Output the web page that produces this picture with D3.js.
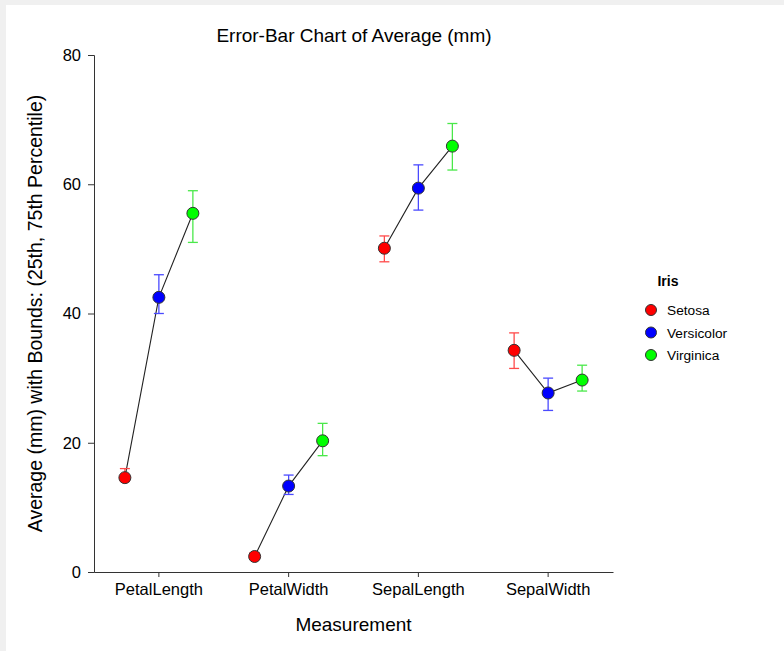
<!DOCTYPE html>
<html lang="en-us">
  <head>
    <meta charset="utf-8">
    <title>Error-Bar Chart</title>
    <script src="https://cdn.jsdelivr.net/npm/d3@7"></script>
    <style>
      body { margin: 0; background: #f0f0f0; }
      svg { display: block; font-family: "Liberation Sans", Arial, sans-serif; }
    </style>
  </head>
  <body>
    <div id="chart"></div>
    <script>

// measurements on the x axis
var measurements = ["PetalLength", "PetalWidth", "SepalLength", "SepalWidth"];
var species = ["Setosa", "Versicolor", "Virginica"];

// averages (mm), one array per species, in measurement order
var setosaMean     = [14.6, 2.4, 50.1, 34.3];
var versicolorMean = [42.5, 13.3, 59.4, 27.7];
var virginicaMean  = [55.5, 20.3, 65.9, 29.7];

// 25th percentile
var setosaLow     = [14.0, 2.0, 48.0, 31.5];
var versicolorLow = [40.0, 12.0, 56.0, 25.0];
var virginicaLow  = [51.0, 18.0, 62.2, 28.0];

// 75th percentile
var setosaHigh     = [16.0, 3.0, 52.0, 37.0];
var versicolorHigh = [46.0, 15.0, 63.0, 30.0];
var virginicaHigh  = [59.0, 23.0, 69.4, 32.0];

var yTicks = [0, 20, 40, 60, 80];

var fillColors = ["#ff0000", "#0000ff", "#00ff00"];
var barColors = ["#ff4a4a", "#4a4aff", "#4ae84a"];

var means = [setosaMean, versicolorMean, virginicaMean];
var lows = [setosaLow, versicolorLow, virginicaLow];
var highs = [setosaHigh, versicolorHigh, virginicaHigh];

var W = 784, H = 651;
var margin = {top: 55, left: 94, right: 171, bottom: 79};
var width = W - margin.left - margin.right,
    height = H - margin.top - margin.bottom;
var fontFamily = '"Liberation Sans", Arial, sans-serif';

var svg = d3.select("#chart").append("svg")
    .attr("width", W)
    .attr("height", H);

// white panel
svg.append("rect")
    .attr("x", 6).attr("y", 5)
    .attr("width", W - 6).attr("height", H - 5)
    .attr("fill", "#fff");

var g = svg.append("g")
    .attr("transform", "translate(" + margin.left + "," + margin.top + ")");

var x = d3.scaleBand()
    .domain(measurements)
    .range([0, width]);

var offset = d3.scalePoint()
    .domain(species)
    .range([-34, 34]);

var y = d3.scaleLinear()
    .domain([0, 80])
    .range([height, 0]);

// axes
var yAxis = g.append("g")
    .call(d3.axisLeft(y).tickValues(yTicks).tickSize(6).tickSizeOuter(6).tickPadding(7));
var xAxis = g.append("g")
    .attr("transform", "translate(0," + height + ")")
    .call(d3.axisBottom(x).tickSize(5).tickSizeOuter(0).tickPadding(6));

g.selectAll(".tick text")
    .attr("fill", "#000")
    .style("font-family", fontFamily)
    .style("font-size", "16.5px");
g.selectAll(".domain").attr("stroke", "#333");
g.selectAll(".tick line").attr("stroke", "#333");

// build the point table
var rows = [];
measurements.forEach(function(m, i) {
  species.forEach(function(s, j) {
    rows.push({m: m, s: s, j: j, mean: means[j][i], low: lows[j][i], high: highs[j][i]});
  });
});

function px(d) { return x(d.m) + x.bandwidth() / 2 + offset(d.s); }

// connecting lines inside each measurement
var line = d3.line()
    .x(px)
    .y(function(d) { return y(d.mean); });

g.selectAll(".link")
    .data(measurements)
    .enter().append("path")
    .attr("class", "link")
    .attr("fill", "none")
    .attr("stroke", "#222")
    .attr("stroke-width", 1.1)
    .attr("d", function(m) { return line(rows.filter(function(r) { return r.m === m; })); });

// error bars
var bars = g.selectAll(".bar")
    .data(rows)
    .enter().append("g")
    .attr("class", "bar")
    .attr("stroke", function(d) { return barColors[d.j]; })
    .attr("stroke-width", 1.3);

bars.append("line")
    .attr("x1", px).attr("x2", px)
    .attr("y1", function(d) { return y(d.low); })
    .attr("y2", function(d) { return y(d.high); });

bars.append("line")
    .attr("x1", function(d) { return px(d) - 5; })
    .attr("x2", function(d) { return px(d) + 5; })
    .attr("y1", function(d) { return y(d.low); })
    .attr("y2", function(d) { return y(d.low); });

bars.append("line")
    .attr("x1", function(d) { return px(d) - 5; })
    .attr("x2", function(d) { return px(d) + 5; })
    .attr("y1", function(d) { return y(d.high); })
    .attr("y2", function(d) { return y(d.high); });

// points
g.selectAll(".pt")
    .data(rows)
    .enter().append("circle")
    .attr("class", "pt")
    .attr("cx", px)
    .attr("cy", function(d) { return y(d.mean); })
    .attr("r", 6)
    .attr("fill", function(d) { return fillColors[d.j]; })
    .attr("stroke", "#333")
    .attr("stroke-width", 1);

// titles
svg.append("text")
    .attr("x", 354).attr("y", 42)
    .attr("text-anchor", "middle")
    .style("font-size", "19px")
    .text("Error-Bar Chart of Average (mm)");

svg.append("text")
    .attr("x", margin.left + width / 2).attr("y", 631)
    .attr("text-anchor", "middle")
    .style("font-size", "19px")
    .text("Measurement");

svg.append("text")
    .attr("transform", "translate(42," + (margin.top + height / 2) + ") rotate(-90)")
    .attr("text-anchor", "middle")
    .style("font-size", "19.5px")
    .text("Average (mm) with Bounds: (25th, 75th Percentile)");

// legend
var legend = svg.append("g")
    .attr("transform", "translate(651,0)");

legend.append("text")
    .attr("x", 17).attr("y", 286)
    .attr("text-anchor", "middle")
    .style("font-size", "14px")
    .style("font-weight", "bold")
    .text("Iris");

var item = legend.selectAll(".item")
    .data(species)
    .enter().append("g")
    .attr("class", "item")
    .attr("transform", function(d, i) { return "translate(0," + (310 + i * 22.5) + ")"; });

item.append("circle")
    .attr("r", 5.5)
    .attr("fill", function(d, i) { return fillColors[i]; })
    .attr("stroke", "#333");

item.append("text")
    .attr("x", 16).attr("y", 5)
    .style("font-size", "13.7px")
    .text(function(d) { return d; });

    </script>
  </body>
</html>
